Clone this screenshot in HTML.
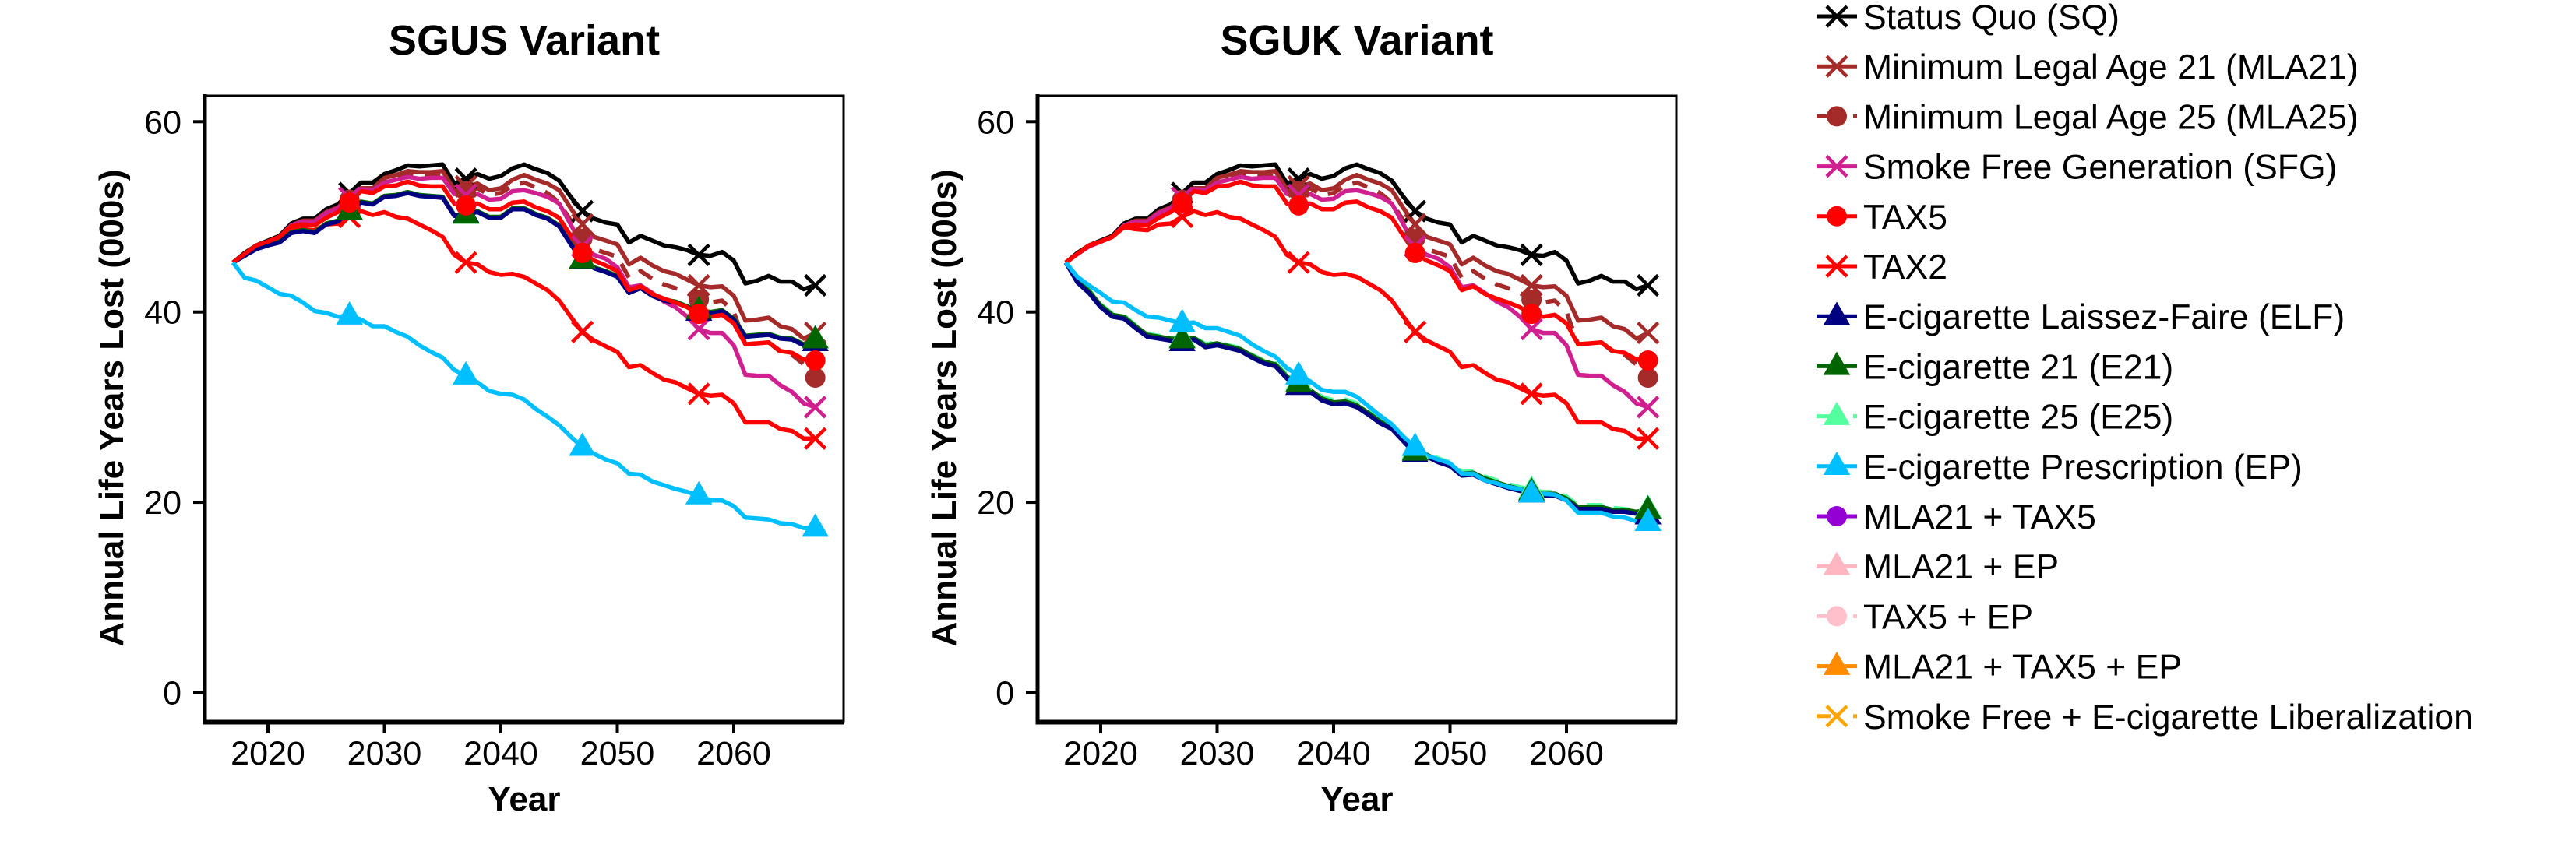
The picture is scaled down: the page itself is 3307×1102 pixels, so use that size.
<!DOCTYPE html>
<html><head><meta charset="utf-8"><style>
html,body{margin:0;padding:0;background:#fff;}
svg{display:block;font-family:"Liberation Sans",sans-serif;}
</style></head><body>
<svg id="chart" width="3307" height="1102" viewBox="0 0 3307 1102" xmlns="http://www.w3.org/2000/svg">
<rect width="3307" height="1102" fill="#fff"/>
<g id="legend"></g>
</svg>
<script>
const years = [];
for (let y = 2017; y <= 2067; y++) years.push(y);
const yTicks = [0, 20, 40, 60];
const xTicks = [2020, 2030, 2040, 2050, 2060];
const panelTitles = ["SGUS Variant", "SGUK Variant"];

const sq = [45.2,46.2,47,47.5,48,49.3,49.8,49.8,50.8,51.3,52.5,53.6,53.6,54.5,54.9,55.4,55.3,55.4,55.5,53.5,54,54.5,54,54.3,55.1,55.5,55,54.6,53.8,52.1,50.6,49.8,49.4,49.2,47.3,48,47.5,47,46.8,46.5,46,45.9,46.3,45.4,43,43.3,43.8,43.2,43.2,42.4,42.8];
const mla21 = [45.2,46.1,46.9,47.4,47.9,49.1,49.6,49.6,50.5,51,52,53,53,54.1,54.4,54.8,54.7,54.7,54.8,52.9,53.2,53.5,52.8,53,53.9,54.4,53.9,53.5,52.8,50.9,49.2,47.9,47.5,47.1,45,45.7,44.9,44.3,44,43.4,42.8,42.6,42.7,41.7,39.1,39.2,39.4,38.5,38.2,37.2,37.8];
const mla25 = [45.2,46.1,46.9,47.4,47.9,49,49.5,49.5,50.4,50.9,51.8,52.8,52.8,53.8,54.1,54.5,54.3,54.3,54.3,52.5,52.7,53,52.3,52.5,53.3,53.6,53.1,52.5,51.5,49.6,47.7,46.6,46.2,45.8,43.6,44.3,43.5,42.9,42.5,42,41.3,41,41.2,40,36.6,36.7,36.8,35.8,35.5,34.5,33.1];
const sfg = [45.2,46.1,46.9,47.4,47.9,49.1,49.5,49.5,50.4,50.9,52,52.9,52.8,53.6,53.9,54.2,54,54.1,54.1,52.4,52.3,52.4,51.8,51.9,52.7,52.8,52.5,52.1,51.4,49.2,46.9,46,45.6,44.7,42.6,42.8,42,41.1,40.5,39.5,38.2,37.8,37.8,36.5,33.4,33.3,33.3,32.3,31.6,30.4,30.0];
const tax5 = [45.2,46.1,47,47.4,47.9,49,49.2,49.1,49.9,50.5,51.5,52.7,52.5,53.2,53.3,53.7,53.3,53.2,53.2,51.4,51.2,51.4,50.8,50.8,51.5,51.6,51,50.6,49.9,48,46.2,45.4,44.9,44.3,42.3,42.7,41.9,41.4,41,40.5,39.8,39.5,39.7,38.8,36.6,36.7,36.8,35.9,35.7,35,34.9];
const tax2 = [45.2,46.1,47,47.4,47.9,48.9,48.7,48.6,49.2,49.3,50,50.6,50.2,50.5,50,49.8,49.2,48.6,47.9,46,45.2,45,44.2,43.9,44,43.7,43,42.3,41.2,39.5,37.9,37,36.4,35.8,34.2,34.4,33.6,32.9,32.6,32,31.4,31.2,31.3,30.4,28.4,28.4,28.4,27.7,27.5,26.7,26.7];
const elfUS = [45.2,45.9,46.6,47,47.3,48.3,48.5,48.3,49.2,49.5,50.6,51.5,51.3,52.1,52.2,52.5,52.2,52.1,52,50.1,50.3,50.5,49.9,49.9,50.8,50.8,50.2,49.8,49,47.1,45.4,44.6,44.2,43.7,42,42.5,41.7,41.2,41,40.5,40,39.8,40.1,39.2,37.4,37.5,37.6,37.2,37.1,36.5,36.8];
const e21US = [45.2,46,46.7,47.1,47.4,48.4,48.6,48.4,49.3,49.6,50.6,51.6,51.4,52.2,52.3,52.6,52.3,52.2,52.1,50.2,50.2,50.6,50,50,50.9,50.9,50.3,49.9,49.1,47.2,45.5,44.7,44.3,43.8,42.1,42.6,41.8,41.3,41.1,40.6,40.2,40,40.2,39.3,37.5,37.6,37.7,37.3,37.2,36.6,37.1];
const e25US = [45.2,46,46.7,47.1,47.4,48.4,48.6,48.4,49.3,49.6,50.6,51.6,51.4,52.2,52.3,52.6,52.3,52.2,52.1,50.2,50.2,50.6,50,50,50.9,50.9,50.3,49.9,49.1,47.2,45.5,44.7,44.3,43.8,42.1,42.6,41.8,41.3,41.1,40.6,40.2,40,40.2,39.3,37.5,37.6,37.7,37.3,37.2,36.6,37.1];
const epUS = [45.2,43.6,43.3,42.6,41.9,41.7,41,40.1,39.9,39.5,39.6,39.2,38.5,38.5,37.9,37.4,36.5,35.8,35.2,33.9,33.3,32.6,31.7,31.4,31.3,30.8,29.8,29,28.1,26.9,25.8,25.1,24.5,24.1,23,22.9,22.2,21.8,21.4,21.1,20.7,20.2,20.2,19.6,18.4,18.3,18.2,17.8,17.7,17.3,17.3];
const elfUK = [45.2,43.1,42,40.5,39.5,39.3,38.3,37.4,37.2,37,36.8,37.1,36.3,36.5,36.2,35.9,35.2,34.6,34.3,33,32.2,31.6,30.7,30.3,30.4,30,29.2,28.3,27.7,26.4,25.1,24.8,24.2,23.8,22.8,22.9,22.3,21.9,21.5,21.2,20.9,20.7,20.7,20.2,19.3,19.3,19.3,19,19,18.8,18.6];
const e21UK = [45.2,43.3,42.2,40.7,39.7,39.5,38.5,37.6,37.4,37.2,37.1,37.3,36.5,36.7,36.4,36.1,35.4,34.8,34.5,33.2,32.5,31.8,30.9,30.5,30.6,30.2,29.4,28.5,27.9,26.6,25.3,25,24.4,24,23,23.1,22.5,22.1,21.7,21.4,21.1,20.9,20.9,20.4,19.5,19.5,19.5,19.2,19.2,19,19.2];
const e25UK = [45.2,43.4,42.3,40.8,39.8,39.6,38.6,37.7,37.5,37.3,37.2,37.4,36.6,36.8,36.5,36.2,35.5,34.9,34.6,33.4,32.7,32,31.1,30.7,30.8,30.4,29.6,28.7,28.1,26.8,25.5,25.2,24.6,24.2,23.2,23.3,22.7,22.3,21.9,21.6,21.3,21.1,21.1,20.6,19.7,19.7,19.7,19.4,19.3,19.1,19.3];
const epUK = [45.2,43.7,42.8,42,41.1,41,40.2,39.5,39.4,39.1,38.8,38.9,38.3,38.3,37.9,37.5,36.6,35.9,35.3,34.1,33.3,32.7,31.8,31.6,31.6,31.1,30.1,29.1,28.2,26.9,25.8,24.9,24.5,24.1,23,23,22.3,22,21.6,21.4,20.9,20.9,20.8,20.2,18.9,18.9,18.9,18.5,18.4,18,17.9];

const legendLabels = ["Status Quo (SQ)","Minimum Legal Age 21 (MLA21)","Minimum Legal Age 25 (MLA25)","Smoke Free Generation (SFG)","TAX5","TAX2","E-cigarette Laissez-Faire (ELF)","E-cigarette 21 (E21)","E-cigarette 25 (E25)","E-cigarette Prescription (EP)","MLA21 + TAX5","MLA21 + EP","TAX5 + EP","MLA21 + TAX5 + EP","Smoke Free + E-cigarette Liberalization"];
const legendColors = ["#000000","#A52A2A","#A52A2A","#D02090","#FF0000","#FF0000","#000080","#006400","#54FF9F","#00BFFF","#9400D3","#FFB6C1","#FFC0CB","#FF8C00","#FFA500"];
const legendShapes = ["x","x","o","x","o","x","t","t","t","t","o","t","o","t","x"];
const legendDashed = [false,false,true,false,false,false,false,false,true,false,false,false,true,false,true];

const NS = "http://www.w3.org/2000/svg";
const svg = document.getElementById("chart");
function mk(tag, attrs, parent) {
  const e = document.createElementNS(NS, tag);
  for (const k in attrs) e.setAttribute(k, attrs[k]);
  (parent || svg).appendChild(e);
  return e;
}
function sizeOf(shape) { return shape === "x" ? 13 : (shape === "o" ? 13 : 15); }
function marker(g, shape, cx, cy, color, s) {
  let m;
  if (shape === "x") {
    m = mk("path", {d:`M${cx-s},${cy-s}L${cx+s},${cy+s}M${cx-s},${cy+s}L${cx+s},${cy-s}`, stroke:color, "stroke-width":4.5, fill:"none"}, g);
  } else if (shape === "o") {
    m = mk("circle", {cx:cx, cy:cy, r:s, fill:color}, g);
  } else {
    m = mk("path", {d:`M${cx},${cy-s*1.25}L${cx+s*1.15},${cy+s*0.75}L${cx-s*1.15},${cy+s*0.75}Z`, fill:color}, g);
  }
  return m;
}

const panelOffsets = [0, 1069];
const panelSeries = [
  [sq, mla21, mla25, sfg, tax5, tax2, elfUS, e21US, e25US, epUS],
  [sq, mla21, mla25, sfg, tax5, tax2, elfUK, e21UK, e25UK, epUK]
];
const lineOrder = [0,1,2,3,5,8,7,6,4,9];
const markerOrder = [0,1,2,3,5,8,6,7,4,9];
const seriesNames = ["sq","mla21","mla25","sfg","tax5","tax2","elf","e21","e25","ep"];

panelSeries.forEach((series, p) => {
  const off = panelOffsets[p];
  const X = yr => off + 344 + (yr - 2020) * 14.95;
  const Y = v => 889.5 - v * 12.22;
  const g = mk("g", {});
  
  
  const t = mk("text", {x: off + 673, y: 70, "text-anchor":"middle", "font-size":54, "font-weight":"bold"}, g);
  t.textContent = panelTitles[p];
  
  
  const fr = mk("rect", {x: off+263, y:123, width:820, height:803, fill:"none", stroke:"#000", "stroke-width":3}, g);
  
  
  const ax = mk("path", {d:`M${off+263},121V928H${off+1084}`, fill:"none", stroke:"#000", "stroke-width":5}, g);
  
  
  yTicks.forEach(v => {
    mk("line", {x1: off+248, x2: off+263, y1: Y(v), y2: Y(v), stroke:"#000", "stroke-width":4}, g);
    const tl = mk("text", {x: off+233, y: Y(v)+15, "text-anchor":"end", "font-size":43}, g);
    tl.textContent = v;
    
    
  });
  xTicks.forEach(yr => {
    mk("line", {x1: X(yr), x2: X(yr), y1: 926, y2: 942, stroke:"#000", "stroke-width":4}, g);
    const tl = mk("text", {x: X(yr), y: 982, "text-anchor":"middle", "font-size":43}, g);
    tl.textContent = yr;
    
    
  });
  const xt = mk("text", {x: off+673, y: 1041, "text-anchor":"middle", "font-size":44, "font-weight":"bold"}, g);
  xt.textContent = "Year";
  
  
  const yt = mk("text", {x: 0, y: 0, "text-anchor":"middle", "font-size":44, "font-weight":"bold", transform:`translate(${off+158},524) rotate(-90)`}, g);
  yt.textContent = "Annual Life Years Lost (000s)";
  
  
  lineOrder.forEach(si => {
    const data = series[si];
    const d = data.map((v, i) => (i ? "L" : "M") + X(years[i]).toFixed(1) + "," + Y(v).toFixed(1)).join("");
    const ln = mk("path", {d: d, fill:"none", stroke: legendColors[si], "stroke-width":5.5, "stroke-linejoin":"round"}, g);
    if (legendDashed[si]) ln.setAttribute("stroke-dasharray", "20,15");
    
    
  });
  markerOrder.forEach(si => {
    const data = series[si];
    for (let i = 10; i < data.length; i += 10) {
      const m = marker(g, legendShapes[si], X(years[i]), Y(data[i]), legendColors[si], sizeOf(legendShapes[si]));
      
      
    }
  });
});

const lg = document.getElementById("legend");
legendLabels.forEach((lab, i) => {
  const cy = 21 + i * 64.2;
  const e = mk("g", {}, lg);
  
  
  const col = legendColors[i];
  if (legendDashed[i]) {
    mk("line", {x1:2332, x2:2350, y1:cy, y2:cy, stroke:col, "stroke-width":5}, e);
    mk("line", {x1:2379, x2:2384, y1:cy, y2:cy, stroke:col, "stroke-width":5}, e);
  } else {
    mk("line", {x1:2332, x2:2384, y1:cy, y2:cy, stroke:col, "stroke-width":5}, e);
  }
  marker(e, legendShapes[i], 2358, cy, col, sizeOf(legendShapes[i]));
  const tx = mk("text", {x:2392, y:cy+16, "font-size":44.5}, e);
  tx.textContent = lab;
});
</script>
</body></html>
